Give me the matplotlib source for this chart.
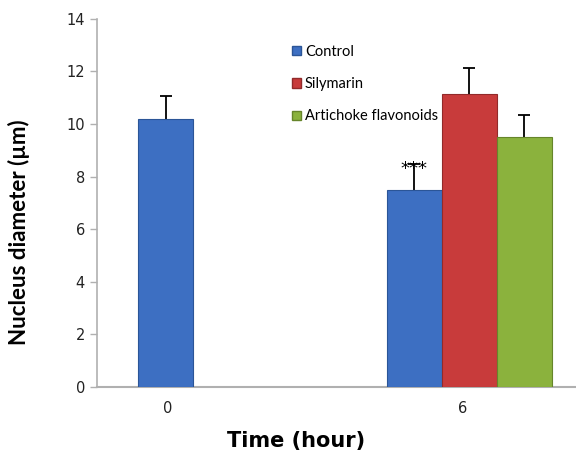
import numpy as np
import matplotlib.pyplot as plt
from matplotlib.patches import Patch

# data
times = ["0", "6"]
control = [10.2, 7.5]
control_err = [0.85, 1.0]
silymarin = [np.nan, 11.15]
silymarin_err = [np.nan, 1.0]
artichoke = [np.nan, 9.5]
artichoke_err = [np.nan, 0.85]

BLUE = "#3d6fc2"
RED = "#c83b3b"
GREEN = "#8bb23d"
GREY = "#b0b0b0"

fig = plt.figure(figsize=(5.76, 4.5), dpi=100)
ax = fig.add_axes([0.168, 0.14, 0.832, 0.818])

x = np.arange(len(times))
w = 0.181
err_kw = dict(ecolor="black", elinewidth=1.3, capsize=4, capthick=1.3, zorder=2)

ax.bar(x[0], control[0], w, color=BLUE, edgecolor="#2b5597", linewidth=0.8, zorder=3)
ax.errorbar(x[0], control[0], yerr=control_err[0], fmt="none", **err_kw)

ax.bar(x[1] - w, control[1], w, color=BLUE, edgecolor="#2b5597", linewidth=0.8, zorder=3)
ax.bar(x[1], silymarin[1], w, color=RED, edgecolor="#922a2a", linewidth=0.8, zorder=3)
ax.bar(x[1] + w, artichoke[1], w, color=GREEN, edgecolor="#66852b", linewidth=0.8, zorder=3)
ax.errorbar([x[1] - w, x[1], x[1] + w],
            [control[1], silymarin[1], artichoke[1]],
            yerr=[control_err[1], silymarin_err[1], artichoke_err[1]],
            fmt="none", **err_kw)

ax.text(x[1] - w, control[1] + 0.8, "***", ha="center", va="center",
        fontsize=13, color="black", zorder=4)

ax.set_xlim(-0.227, 1.351)
ax.set_ylim(0, 14)
ax.set_yticks(np.arange(0, 15, 2))
ax.set_xticks([x[0] + 0.007, x[1] - 0.021])
ax.set_xticklabels(times)
ax.tick_params(axis="y", colors=GREY, labelcolor="#222222", labelsize=10.5,
               length=5, width=1, direction="out")
ax.tick_params(axis="x", length=0, labelcolor="#222222", labelsize=10.5, pad=10)

for s in ["top", "right"]:
    ax.spines[s].set_visible(False)
ax.spines["left"].set_color(GREY)
ax.spines["bottom"].set_color(GREY)
ax.spines["left"].set_linewidth(1.2)
ax.spines["bottom"].set_linewidth(1.5)

ax.set_ylabel("Nucleus diameter (µm)", fontsize=16, fontweight="bold",
              family="Lato")
ax.yaxis.set_label_coords(-0.14, 0.42)
ax.set_xlabel("Time (hour)", fontsize=15, fontweight="bold")
ax.xaxis.set_label_coords(0.415, -0.12)

handles = [Patch(facecolor=BLUE, edgecolor="#2b5597", label="Control"),
           Patch(facecolor=RED, edgecolor="#922a2a", label="Silymarin"),
           Patch(facecolor=GREEN, edgecolor="#66852b", label="Artichoke flavonoids")]
ax.legend(handles=handles, loc="upper left", bbox_to_anchor=(0.395, 0.945),
          frameon=False, prop={"family": "Lato", "size": 10.5},
          handlelength=0.6, handleheight=0.6, handletextpad=0.3,
          labelspacing=1.25, borderaxespad=0)

fig.savefig("out.png", dpi=100)
